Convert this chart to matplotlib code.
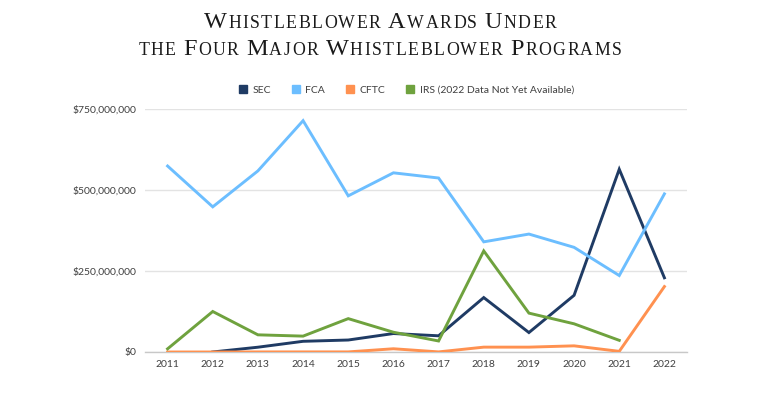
import matplotlib
matplotlib.use("Agg")
import matplotlib.pyplot as plt
import numpy as np

years = [2011, 2012, 2013, 2014, 2015, 2016, 2017, 2018, 2019, 2020, 2021, 2022]
sec = [np.nan, 0.05e6, 14.8e6, 33e6, 37e6, 57e6, 50e6, 168e6, 60e6, 175e6, 564e6, 229e6]
fca = [574e6, 448e6, 559e6, 714e6, 482e6, 553e6, 537e6, 340e6, 364e6, 323e6, 236e6, 488e6]
cftc = [0, 0, 0.24e6, 0.3e6, 0.3e6, 10e6, 0.3e6, 15e6, 15e6, 19e6, 2e6, 202e6]
irs = [9.8e6, 125e6, 53e6, 49e6, 103e6, 61e6, 34e6, 312e6, 120e6, 87e6, 36e6, np.nan]
series_names = ["SEC", "FCA", "CFTC", "IRS (2022 Data Not Yet Available)"]
colors = ["#1F3B64", "#6CBEFF", "#FF9150", "#6FA23E"]
yticks = [0, 250e6, 500e6, 750e6]
ytick_labels = ["$0", "$250,000,000", "$500,000,000", "$750,000,000"]
title_lines = ["Whistleblower Awards Under", "the Four Major Whistleblower Programs"]

W, H = 760, 399
fig = plt.figure(figsize=(W / 100, H / 100), dpi=100)
ax = fig.add_axes([145 / W, 1 - 352 / H, (687 - 145) / W, (352 - 109) / H])

tick_font = "Lato"
for vals, c in zip([sec, fca, cftc, irs], colors):
    ax.plot(years, vals, color=c, lw=2.1, solid_joinstyle="miter", zorder=3)

ax.set_xlim(2010.5, 2022.5)
ax.set_ylim(0, 750e6)
ax.set_yticks(yticks)
ax.set_yticklabels(ytick_labels)
ax.set_xticks(years)
ax.set_xticklabels([str(y) for y in years])
ax.grid(axis="y", color="#E3E3E3", lw=1.0)
ax.set_axisbelow(True)
for s in ["top", "right", "left"]:
    ax.spines[s].set_visible(False)
ax.spines["bottom"].set_color("#C8C8C8")
ax.spines["bottom"].set_linewidth(1.0)
ax.tick_params(axis="both", length=0, labelsize=7.5, labelcolor="#404040")
ax.tick_params(axis="y", pad=6)
ax.tick_params(axis="x", pad=6)
for lbl in ax.get_xticklabels() + ax.get_yticklabels():
    lbl.set_fontfamily(tick_font)

# legend
from matplotlib.lines import Line2D
handles = [Line2D([], [], marker="s", ls="none", color=c, markersize=5.2) for c in colors]
leg = fig.legend(handles, series_names, loc="center", bbox_to_anchor=(406 / W, 1 - 90 / H),
                 ncol=4, frameon=False, prop={"family": tick_font, "size": 7.5},
                 handletextpad=0.4, columnspacing=1.9, handlelength=1.0,
                 labelcolor="#404040")

# small caps title
renderer = fig.canvas.get_renderer()
big, small = 17.5, 12.8
fam = "Liberation Serif"
track = 1.5  # px extra letter spacing

def runs_for(line):
    runs = []
    for ch in line:
        if ch == " ":
            runs.append((" ", small))
        elif ch.isupper():
            runs.append((ch, big))
        else:
            runs.append((ch.upper(), small))
    return runs

def draw_smallcaps(line, ybase_px):
    runs = runs_for(line)
    texts = []
    for s, sz in runs:
        t = fig.text(0, 0, s, fontsize=sz, family=fam, color="#1a1a1a", va="baseline", ha="left")
        texts.append(t)
    fig.canvas.draw()
    widths = []
    for (s, sz), t in zip(runs, texts):
        if s == " ":
            widths.append(sz * 0.25 * 100 / 72 + track)
        else:
            widths.append(t.get_window_extent(renderer).width + track)
    total = sum(widths) - track
    x = (W - total) / 2
    for t, w in zip(texts, widths):
        t.set_position((x / W, 1 - ybase_px / H))
        x += w

draw_smallcaps(title_lines[0], 28)
draw_smallcaps(title_lines[1], 55)

fig.savefig("out.png", dpi=100, facecolor="white")
